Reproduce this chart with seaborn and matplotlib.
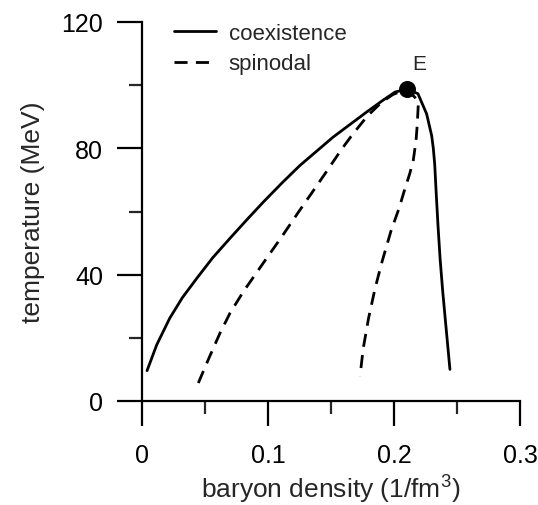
import matplotlib
matplotlib.use("Agg")
import matplotlib.pyplot as plt
import seaborn as sns
import pandas as pd

# ---- data ----
coex_x = [0.004, 0.0117, 0.022, 0.032, 0.0434, 0.056, 0.0698, 0.083, 0.0963, 0.111, 0.1254,
          0.1518, 0.1783, 0.1915, 0.2008, 0.210, 0.219, 0.2259, 0.2299, 0.2312, 0.2323,
          0.2336, 0.2350, 0.2366, 0.2386, 0.2409, 0.2444]
coex_t = [9.6, 17.8, 26.2, 32.7, 38.8, 45.3, 51.5, 57.3, 63.0, 69.0, 74.6,
          83.6, 91.5, 95.3, 97.8, 98.8, 97.3, 90.9, 84.0, 80.0, 75.0,
          65.0, 55.0, 45.0, 35.0, 25.0, 10.0]

spin_left_x = [0.0447, 0.0526, 0.0619, 0.0698, 0.0804, 0.0905, 0.1003, 0.1109, 0.1245,
               0.136, 0.146, 0.1584, 0.1669, 0.1788, 0.1902, 0.199, 0.210]
spin_left_t = [5.7, 13.1, 21.5, 27.8, 34.6, 40.4, 46.0, 52.0, 60.0,
               66.6, 72.4, 79.7, 84.3, 90.2, 94.6, 97.0, 98.8]

spin_right_x = [0.210, 0.2194, 0.2185, 0.2175, 0.2153, 0.2125, 0.2085, 0.2040, 0.1975,
                0.1905, 0.185, 0.1798, 0.1756, 0.173]
spin_right_t = [98.8, 95.0, 87.8, 82.5, 76.2, 72.0, 67.0, 61.0, 53.7,
                44.1, 35.7, 26.2, 16.7, 7.8]

crit_x = [0.210]
crit_t = [98.8]
crit_label = "E"

x_ticks = [0, 0.1, 0.2, 0.3]
x_tick_labels = ["0", "0.1", "0.2", "0.3"]
y_ticks = [0, 40, 80, 120]
y_tick_labels = ["0", "40", "80", "120"]

sns.set_style("ticks")
plt.rcParams["font.family"] = ["Liberation Sans", "DejaVu Sans"]
plt.rcParams["mathtext.fontset"] = "custom"
plt.rcParams["mathtext.rm"] = "Liberation Sans"

fig = plt.figure(figsize=(5.38, 5.06), dpi=100)
ax = fig.add_axes([142 / 538, (506 - 402) / 506, (520 - 142) / 538, (402 - 23) / 506])

lw = 2.0
df_c = pd.DataFrame({"x": coex_x, "t": coex_t})
df_sl = pd.DataFrame({"x": spin_left_x, "t": spin_left_t})
df_sr = pd.DataFrame({"x": spin_right_x, "t": spin_right_t})

sns.lineplot(data=df_c, x="x", y="t", sort=False, color="black", lw=lw, ax=ax,
             label="coexistence", estimator=None)
sns.lineplot(data=df_sl, x="x", y="t", sort=False, color="black", lw=lw, ax=ax,
             label="spinodal", estimator=None, dashes=False)
sns.lineplot(data=df_sr, x="x", y="t", sort=False, color="black", lw=lw, ax=ax,
             estimator=None, dashes=False)
dash = (4.7, 3.0)
for ln in ax.lines:
    ln.set_solid_joinstyle("round")
ax.lines[1].set_dashes(dash)
ax.lines[2].set_dashes(dash)

sns.scatterplot(x=crit_x, y=crit_t, color="black", s=150, ax=ax, zorder=5,
                edgecolor="black", linewidth=0)
ax.text(0.2198, 106.9, crit_label, fontsize=15, ha="center", va="center")

ax.set_xlim(0, 0.3)
ax.set_ylim(0, 120)
ax.set_xticks(x_ticks)
ax.set_xticklabels(x_tick_labels)
ax.set_yticks(y_ticks)
ax.set_yticklabels(y_tick_labels)
ax.set_xticks([0.05, 0.15, 0.25], minor=True)
ax.set_yticks([20, 60, 100], minor=True)

for s in ["top", "right"]:
    ax.spines[s].set_visible(False)
for s in ["left", "bottom"]:
    ax.spines[s].set_linewidth(1.6)
    ax.spines[s].set_color("black")

ax.tick_params(which="major", length=18, width=1.6, labelsize=18, pad=10, colors="black")
ax.tick_params(which="minor", length=9.5, width=1.6)
ax.tick_params(axis="x", which="major", pad=12)

ax.set_xlabel(r"baryon density (1/fm$^{3}$)", fontsize=19, labelpad=3)
ax.set_ylabel("temperature (MeV)", fontsize=19, labelpad=12)

leg = ax.legend(loc="upper left", bbox_to_anchor=(0.085, 0.997), frameon=False,
                fontsize=16, handlelength=1.9, handletextpad=0.55, labelspacing=0.42,
                borderpad=0, borderaxespad=0)

fig.savefig("out.png", dpi=100)
